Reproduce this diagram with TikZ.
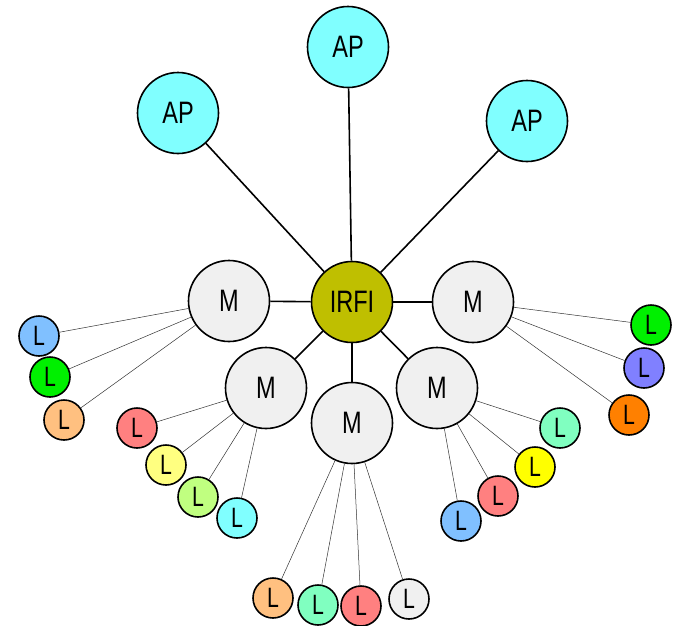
\documentclass[tikz,border=0pt]{standalone}
\usepackage{fontspec}
\setmainfont{Liberation Sans}[FakeStretch=0.76]
\begin{document}
\begin{tikzpicture}[x=1pt,y=-1pt,
  ball/.style={circle,draw=black,line width=1.6pt,inner sep=0pt,font=\fontsize{31}{31}\selectfont},
  big/.style={ball,minimum size=81pt},
  leaf/.style={ball,minimum size=40pt,font=\fontsize{28}{28}\selectfont},
  hub/.style={line width=1.6pt},
  twig/.style={line width=0.5pt,draw=black!80}]
\useasboundingbox (0,0) rectangle (677,625);
\definecolor{olive}{HTML}{BFBF00}
\definecolor{aqua}{HTML}{80FFFF}
\definecolor{mgray}{HTML}{F0F0F0}
\definecolor{lblue}{HTML}{80C0FF}
\definecolor{lgreen}{HTML}{00F000}
\definecolor{lorange}{HTML}{FFC080}
\definecolor{lpurple}{HTML}{8080FF}
\definecolor{dorange}{HTML}{FF8000}
\definecolor{salmon}{HTML}{FF8080}
\definecolor{lyellow}{HTML}{FFFF80}
\definecolor{lime}{HTML}{C0FF80}
\definecolor{mint}{HTML}{80FFC0}
\definecolor{yel}{HTML}{FFFF00}

% centre and access points
\node[big,fill=olive] (irfi) at (352,302) {IRFI};
\node[big,fill=aqua] (ap1) at (348,47) {AP};
\node[big,fill=aqua] (ap2) at (178,113) {AP};
\node[big,fill=aqua] (ap3) at (527,121) {AP};

% middle tier
\node[big,fill=mgray] (mL) at (229,301) {M};
\node[big,fill=mgray] (mR) at (473,302) {M};
\node[big,fill=mgray] (mLL) at (266,388) {M};
\node[big,fill=mgray] (mB) at (352,423) {M};
\node[big,fill=mgray] (mLR) at (437,388) {M};

\foreach \n in {ap1,ap2,ap3,mL,mR,mLL,mB,mLR}
  \draw[hub] (irfi) -- (\n);

% leaves
\node[leaf,fill=lblue] (l1) at (39,336) {L};
\node[leaf,fill=lgreen] (l2) at (50,377) {L};
\node[leaf,fill=lorange] (l3) at (64,420) {L};

\node[leaf,fill=lgreen] (r1) at (651,325) {L};
\node[leaf,fill=lpurple] (r2) at (644,368) {L};
\node[leaf,fill=dorange] (r3) at (629,415) {L};

\node[leaf,fill=salmon] (a1) at (137,428) {L};
\node[leaf,fill=lyellow] (a2) at (166,465) {L};
\node[leaf,fill=lime] (a3) at (198,497) {L};
\node[leaf,fill=aqua] (a4) at (237,518) {L};

\node[leaf,fill=lorange] (b1) at (273,598) {L};
\node[leaf,fill=mint] (b2) at (318,605) {L};
\node[leaf,fill=salmon] (b3) at (361,606) {L};
\node[leaf,fill=mgray] (b4) at (409,599) {L};

\node[leaf,fill=mint] (c1) at (560,428) {L};
\node[leaf,fill=yel] (c2) at (535,467) {L};
\node[leaf,fill=salmon] (c3) at (498,496) {L};
\node[leaf,fill=lblue] (c4) at (461,521) {L};

\foreach \n in {l1,l2,l3} \draw[twig] (mL) -- (\n);
\foreach \n in {r1,r2,r3} \draw[twig] (mR) -- (\n);
\foreach \n in {a1,a2,a3,a4} \draw[twig] (mLL) -- (\n);
\foreach \n in {b1,b2,b3,b4} \draw[twig] (mB) -- (\n);
\foreach \n in {c1,c2,c3,c4} \draw[twig] (mLR) -- (\n);
\end{tikzpicture}
\end{document}
